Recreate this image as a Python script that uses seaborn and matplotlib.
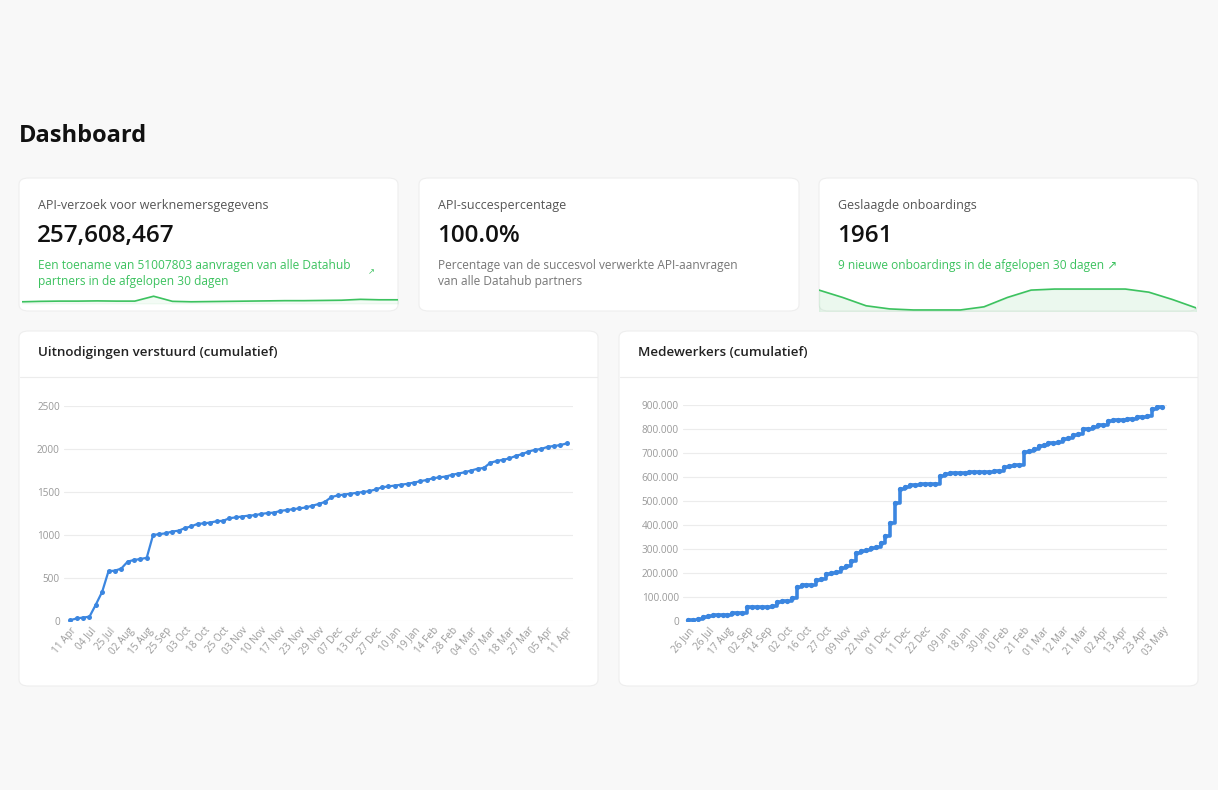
import numpy as np
import pandas as pd
import matplotlib
matplotlib.use("Agg")
import matplotlib.pyplot as plt
from matplotlib.patches import FancyBboxPatch
import seaborn as sns

sns.set_theme(style="white")
plt.rcParams['font.family'] = ['Open Sans', 'DejaVu Sans']

# ---------------- data ----------------
invites_values = [10, 30, 40, 50, 190, 340, 580, 585, 610, 690, 710, 720, 735, 1000, 1010, 1020,
                  1040, 1050, 1080, 1100, 1130, 1135, 1145, 1160, 1165, 1195, 1205, 1215, 1225,
                  1230, 1245, 1255, 1260, 1280, 1290, 1300, 1310, 1320, 1340, 1360, 1385, 1440,
                  1460, 1470, 1480, 1490, 1500, 1510, 1530, 1555, 1565, 1575, 1585, 1595, 1610,
                  1625, 1640, 1660, 1670, 1680, 1700, 1715, 1730, 1750, 1770, 1780, 1840, 1860,
                  1875, 1890, 1920, 1940, 1970, 1990, 2000, 2025, 2035, 2045, 2065]
invites_ticks = ["11 Apr", "04 Jul", "25 Jul", "02 Aug", "15 Aug", "25 Sep", "03 Oct", "18 Oct",
                 "25 Oct", "03 Nov", "10 Nov", "17 Nov", "23 Nov", "29 Nov", "07 Dec", "13 Dec",
                 "27 Dec", "10 Jan", "19 Jan", "14 Feb", "28 Feb", "04 Mar", "07 Mar", "18 Mar",
                 "27 Mar", "05 Apr", "11 Apr"]

employees_values = [5e3, 5e3, 8e3, 15e3, 22e3, 25e3, 25e3, 25e3, 25e3, 32e3, 35e3, 35e3,
                    60e3, 60e3, 60e3, 60e3, 60e3, 62e3, 80e3, 82e3, 85e3, 95e3, 140e3, 150e3,
                    150e3, 150e3, 170e3, 175e3, 195e3, 200e3, 205e3, 220e3, 228e3, 250e3, 285e3, 290e3,
                    295e3, 305e3, 310e3, 325e3, 355e3, 410e3, 490e3, 550e3, 560e3, 565e3, 568e3, 570e3,
                    570e3, 570e3, 572e3, 605e3, 612e3, 615e3, 615e3, 617e3, 618e3, 620e3, 620e3, 621e3,
                    622e3, 622e3, 623e3, 623e3, 640e3, 645e3, 648e3, 648e3, 705e3, 708e3, 715e3, 728e3,
                    732e3, 740e3, 742e3, 745e3, 760e3, 762e3, 775e3, 780e3, 798e3, 802e3, 810e3, 815e3,
                    818e3, 832e3, 836e3, 838e3, 838e3, 840e3, 840e3, 850e3, 852e3, 855e3, 885e3, 890e3,
                    892e3]
employees_ticks = ["26 Jun", "26 Jul", "17 Aug", "02 Sep", "14 Sep", "02 Oct", "16 Oct", "27 Oct",
                   "09 Nov", "22 Nov", "01 Dec", "11 Dec", "22 Dec", "09 Jan", "18 Jan", "30 Jan",
                   "10 Feb", "21 Feb", "01 Mar", "12 Mar", "21 Mar", "02 Apr", "13 Apr", "23 Apr", "03 May"]

spark_api = [0.35, 0.45, 0.5, 0.5, 0.55, 0.5, 0.5, 1.6, 0.45, 0.35, 0.4, 0.45, 0.5, 0.55, 0.6,
             0.6, 0.65, 0.7, 0.9, 0.8, 0.8]
spark_onboard = [0.95, 0.6, 0.2, 0.05, 0.0, 0.0, 0.0, 0.15, 0.6, 0.95, 1.0, 1.0, 1.0, 1.0, 0.85, 0.5, 0.1]

W, H = 1218, 790
BG = "#f8f8f8"
BLUE = "#3b86e0"
GREEN = "#3cc25f"
fig = plt.figure(figsize=(W / 100, H / 100), dpi=100, facecolor=BG)


def fx(x):
    return x / W


def fy(y):
    return 1 - y / H


def card(x0, y0, x1, y1):
    p = FancyBboxPatch((fx(x0), fy(y1)), fx(x1 - x0), (y1 - y0) / H,
                       boxstyle="round,pad=0,rounding_size=0.008", transform=fig.transFigure,
                       facecolor="white", edgecolor="#eeeeee", linewidth=0.8, zorder=-5)
    fig.patches.append(p)


def ax_px(x0, y0, x1, y1):
    a = fig.add_axes([fx(x0), fy(y1), fx(x1 - x0), (y1 - y0) / H])
    a.set_zorder(2)
    a.patch.set_alpha(0)
    return a


fig.text(fx(19), fy(136), "Dashboard", fontsize=17, fontweight="bold", color="#111111", va="center")

# top cards
for (x0, x1) in [(19, 398), (419, 799), (819, 1198)]:
    card(x0, 178, x1, 311)

fig.text(fx(38), fy(206), "API-verzoek voor werknemersgegevens", fontsize=9, color="#555555", va="center")
fig.text(fx(37), fy(236), "257,608,467", fontsize=17.5, fontweight="semibold", color="#111111", va="center")
fig.text(fx(38), fy(265), "Een toename van 51007803 aanvragen van alle Datahub", fontsize=8.6, color=GREEN, va="center")
fig.text(fx(38), fy(282), "partners in de afgelopen 30 dagen", fontsize=8.6, color=GREEN, va="center")
fig.text(fx(368), fy(273), "\u2197", fontsize=6, color=GREEN, va="center")

fig.text(fx(438), fy(206), "API-succespercentage", fontsize=9, color="#555555", va="center")
fig.text(fx(437), fy(236), "100.0%", fontsize=17.5, fontweight="semibold", color="#111111", va="center")
fig.text(fx(438), fy(265), "Percentage van de succesvol verwerkte API-aanvragen", fontsize=8.6, color="#777777", va="center")
fig.text(fx(438), fy(282), "van alle Datahub partners", fontsize=8.6, color="#777777", va="center")

fig.text(fx(838), fy(206), "Geslaagde onboardings", fontsize=9, color="#555555", va="center")
fig.text(fx(837), fy(236), "1961", fontsize=17.5, fontweight="semibold", color="#111111", va="center")
fig.text(fx(838), fy(266), "9 nieuwe onboardings in de afgelopen 30 dagen \u2197", fontsize=8.6, color=GREEN, va="center")

a1 = ax_px(22, 290, 398, 310)
x1 = np.arange(len(spark_api))
sns.lineplot(x=x1, y=spark_api, ax=a1, color=GREEN, linewidth=1.2)
a1.fill_between(x1, spark_api, 0, color=GREEN, alpha=0.06)
a1.set_xlim(0, len(spark_api) - 1)
a1.set_ylim(-1.5, 3)
a1.axis("off")

a3 = ax_px(819, 288, 1196, 311)
x3 = np.arange(len(spark_onboard))
sns.lineplot(x=x3, y=spark_onboard, ax=a3, color=GREEN, linewidth=1.2)
a3.fill_between(x3, spark_onboard, -0.1, color=GREEN, alpha=0.1)
a3.set_xlim(0, len(spark_onboard) - 1)
a3.set_ylim(-0.05, 1.05)
a3.axis("off")

# big cards
for (x0, x1b, title) in [(19, 598, "Uitnodigingen verstuurd (cumulatief)"),
                         (619, 1198, "Medewerkers (cumulatief)")]:
    card(x0, 331, x1b, 686)
    fig.add_artist(plt.Line2D([fx(x0 + 1), fx(x1b - 1)], [fy(377), fy(377)],
                              transform=fig.transFigure, color="#ececec", linewidth=0.8))
    fig.text(fx(x0 + 19), fy(353), title, fontsize=9.6, fontweight="semibold", color="#222222", va="center")


def style_ax(ax):
    for s in ax.spines.values():
        s.set_visible(False)
    ax.grid(axis="y", color="#ececec", linewidth=0.8)
    ax.grid(axis="x", visible=False)
    ax.tick_params(axis="both", length=0, colors="#999999", labelsize=7.2, pad=3)
    ax.set_xlabel("")
    ax.set_ylabel("")


axL = ax_px(64, 406, 573, 621)
df_inv = pd.DataFrame({"idx": np.arange(len(invites_values)), "val": invites_values})
sns.lineplot(data=df_inv, x="idx", y="val", ax=axL, color=BLUE, linewidth=1.6,
             marker="o", markersize=3.6, markeredgewidth=0)
axL.set_ylim(0, 2500)
axL.set_yticks([0, 500, 1000, 1500, 2000, 2500])
axL.set_xlim(-1, len(invites_values))
axL.set_xticks(np.arange(0, len(invites_values), 3))
axL.set_xticklabels(invites_ticks, rotation=50, ha="right", rotation_mode="anchor")
style_ax(axL)

axR = ax_px(683, 405, 1167, 621)
df_emp = pd.DataFrame({"idx": np.arange(len(employees_values)), "val": employees_values})
sns.lineplot(data=df_emp, x="idx", y="val", ax=axR, color=BLUE, linewidth=2.6,
             marker="o", markersize=3.8, markeredgewidth=0, drawstyle="steps-post")
axR.set_ylim(0, 900000)
axR.set_yticks(np.arange(0, 900001, 100000))
axR.set_yticklabels(["0" if v == 0 else f"{v // 1000}.000" for v in range(0, 900001, 100000)])
axR.set_xlim(-1, len(employees_values))
axR.set_xticks(np.arange(0, len(employees_values), 4))
axR.set_xticklabels(employees_ticks, rotation=50, ha="right", rotation_mode="anchor")
style_ax(axR)

fig.savefig("out.png", dpi=100, facecolor=BG)
